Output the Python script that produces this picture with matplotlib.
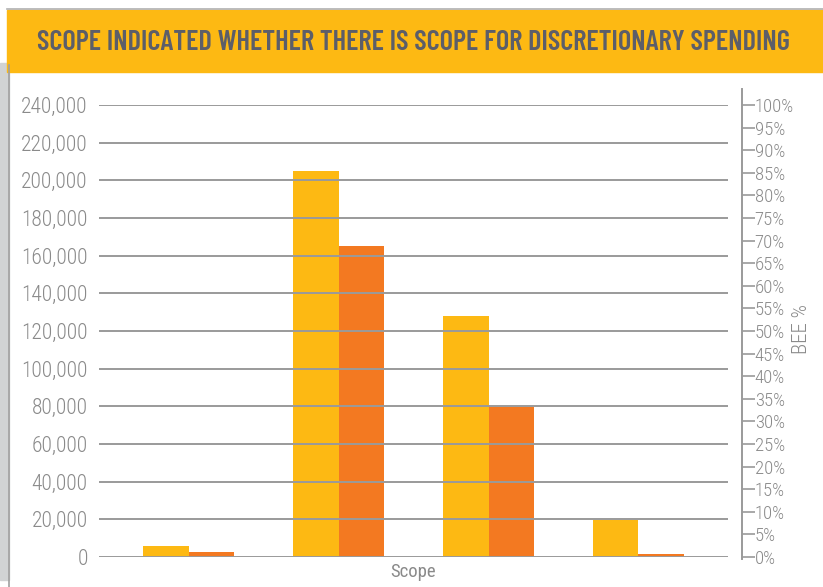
import matplotlib.pyplot as plt
from matplotlib.patches import Rectangle
from matplotlib.lines import Line2D
from matplotlib.ticker import FuncFormatter

# values
groups = ["A", "B", "C", "D"]
yellow_vals = [6000, 205000, 128000, 19800]
orange_vals = [2700, 165200, 79800, 1600]
left_ticks = list(range(0, 240001, 20000))
right_ticks = list(range(0, 101, 5))

YELLOW = "#FDB913"
ORANGE = "#F37921"
GREY_TXT = "#8a8a8a"
GRID = "#9a9a9a"

plt.rcParams["font.family"] = ["Roboto Condensed", "DejaVu Sans"]
plt.rcParams["font.weight"] = 300

fig = plt.figure(figsize=(8.23, 5.87), dpi=100)

# page decorations: gray left band and yellow title banner
fig.patches.append(Rectangle((0, 0.012), 0.011, 0.88, transform=fig.transFigure,
                             color="#d1d3d4", zorder=0))
fig.lines.append(Line2D([0.0115, 0.0115], [0, 0.89], transform=fig.transFigure,
                        color="#a0a0a0", lw=1.2))
fig.patches.append(Rectangle((0.0085, 0.877), 1.0, 0.106, transform=fig.transFigure,
                             color=YELLOW, zorder=1))
fig.lines.append(Line2D([0.0085, 1], [0.984, 0.984], transform=fig.transFigure,
                        color="#b0b0b0", lw=1.2))
fig.text(0.502, 0.927, "SCOPE INDICATED WHETHER THERE IS SCOPE FOR DISCRETIONARY SPENDING",
         ha="center", va="center", fontsize=20.5, fontweight=600, color="#5c5e69",
         family=["Barlow Condensed", "DejaVu Sans"])

ax = fig.add_axes([0.12, 0.051, 0.765, 0.77])
x = list(range(len(groups)))
w = 0.305
ax.bar([i - w / 2 for i in x], yellow_vals, width=w, color=YELLOW, zorder=1)
ax.bar([i + w / 2 for i in x], orange_vals, width=w, color=ORANGE, zorder=1)

ax.set_xlim(-0.6, 3.6)
ax.set_ylim(0, 240000)
ax.set_yticks(left_ticks)
ax.yaxis.set_major_formatter(FuncFormatter(lambda v, p: f"{int(v):,}"))
ax.tick_params(axis="y", length=0, pad=8, labelsize=15.5, labelcolor=GREY_TXT)
ax.set_xticks([])
ax.grid(axis="y", color=GRID, lw=1.4, zorder=3)
ax.set_axisbelow(False)
for s in ax.spines.values():
    s.set_visible(False)
ax.set_xlabel("Scope", fontsize=13.5, color=GREY_TXT, labelpad=4)

# right hand percentage axis
ax2 = ax.twinx()
ax2.set_ylim(0, 100)
ax2.set_yticks(right_ticks)
ax2.yaxis.set_major_formatter(FuncFormatter(lambda v, p: f"{int(v)}%"))
ax2.tick_params(axis="y", length=9, width=1.2, color=GRID, pad=0,
                labelsize=13.5, labelcolor=GREY_TXT)
for lbl in ax2.get_yticklabels():
    lbl.set_verticalalignment("bottom")
for k in ["top", "bottom", "left"]:
    ax2.spines[k].set_visible(False)
ax2.spines["right"].set_position(("outward", 10))
ax2.spines["right"].set_color(GRID)
ax2.spines["right"].set_linewidth(1.4)
ax2.spines["right"].set_bounds(-0.5, 103.5)

fig.text(0.974, 0.44, "BEE %", rotation=90, ha="center", va="center",
         fontsize=15, color=GREY_TXT)

fig.savefig("out.png", dpi=100)
